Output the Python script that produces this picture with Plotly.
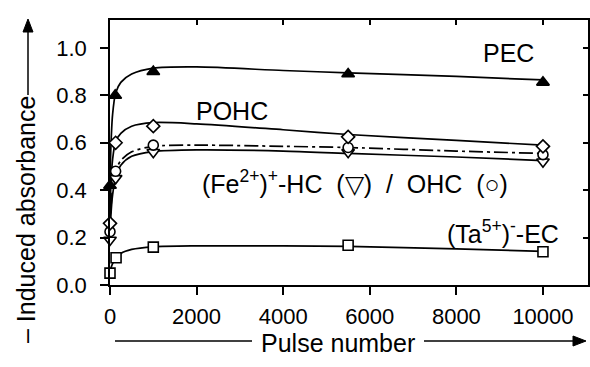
import plotly.graph_objects as go

# ---- data ----
x_ticks = [0, 2000, 4000, 6000, 8000, 10000]
y_ticks = [0.0, 0.2, 0.4, 0.6, 0.8, 1.0]

# measured points
pec_x = [0, 120, 1000, 5500, 10000]
pec_y = [0.42, 0.80, 0.90, 0.89, 0.855]
pohc_x = [0, 130, 1000, 5500, 10000]
pohc_y = [0.26, 0.60, 0.67, 0.625, 0.585]
ohc_x = [0, 130, 1000, 5500, 10000]
ohc_y = [0.225, 0.48, 0.59, 0.58, 0.55]
fe_x = [0, 130, 1000, 5500, 10000]
fe_y = [0.19, 0.45, 0.56, 0.56, 0.52]
ta_x = [0, 140, 1000, 5500, 10000]
ta_y = [0.05, 0.115, 0.16, 0.168, 0.14]

# fitted curves
curve_x = [0, 20, 60, 130, 250, 500, 1000, 2000, 4000, 5500, 8000, 10000]
pec_curve = [0.42, 0.58, 0.72, 0.81, 0.855, 0.89, 0.915, 0.92, 0.905, 0.895, 0.88, 0.865]
pohc_curve = [0.26, 0.42, 0.53, 0.605, 0.64, 0.67, 0.685, 0.68, 0.655, 0.635, 0.61, 0.59]
ohc_curve = [0.225, 0.32, 0.41, 0.48, 0.525, 0.562, 0.585, 0.59, 0.585, 0.58, 0.565, 0.555]
fe_curve = [0.19, 0.29, 0.38, 0.45, 0.505, 0.543, 0.563, 0.57, 0.565, 0.555, 0.54, 0.525]
ta_curve = [0.05, 0.07, 0.09, 0.112, 0.133, 0.15, 0.161, 0.165, 0.165, 0.163, 0.152, 0.142]

FONT = "Liberation Sans, Arial, Helvetica, sans-serif"
FS_TICK = 22
FS_TEXT = 25
L, R, T, B = 110, 2, 20, 82
W, H = 590, 367
PW, PH = W - L - R, H - T - B


def px(xp):
    return (xp - L) / PW


def py(yp):
    return (H - B - yp) / PH


XR = [0, 11040]
YR = [0, 1.118]

fig = go.Figure()

lw = 1.7
curves = [
    (pec_curve, "solid"),
    (pohc_curve, "solid"),
    (ohc_curve, "14px,4px,3px,4px"),
    (fe_curve, "solid"),
    (ta_curve, "solid"),
]
for cy, dash in curves:
    fig.add_trace(go.Scatter(x=curve_x, y=cy, mode="lines",
                             line=dict(color="black", width=lw, dash=dash, shape="spline", smoothing=0.8),
                             hoverinfo="skip", showlegend=False, cliponaxis=False))

markers = [
    (fe_x, fe_y, "triangle-down", 11, "white"),
    (ohc_x, ohc_y, "circle", 10, "white"),
    (pohc_x, pohc_y, "diamond", 10, "white"),
    (ta_x, ta_y, "square", 10, "white"),
    (pec_x, pec_y, "triangle-up", 11, "black"),
]
for mx, my, sym, sz, fill in markers:
    fig.add_trace(go.Scatter(x=mx, y=my, mode="markers",
                             marker=dict(symbol=sym, size=sz, color=fill,
                                         line=dict(color="black", width=1.6)),
                             showlegend=False, cliponaxis=False))

# dummy trace for mirrored axes
fig.add_trace(go.Scatter(x=[None], y=[None], xaxis="x2", yaxis="y2", showlegend=False, hoverinfo="skip"))

axis_common = dict(showgrid=False, zeroline=False, showline=True, linecolor="black", linewidth=1.5,
                   tickcolor="black", tickwidth=1.5)

fig.update_layout(
    width=W, height=H,
    margin=dict(l=L, r=R, t=T, b=B),
    paper_bgcolor="white", plot_bgcolor="white",
    font=dict(family=FONT, size=FS_TICK, color="black"),
    xaxis=dict(range=XR, tickvals=x_ticks, ticktext=[str(v) for v in x_ticks],
               ticks="outside", ticklen=8, ticklabelstandoff=3, **axis_common),
    yaxis=dict(range=YR, tickvals=y_ticks, ticktext=[f"{v:.1f}" for v in y_ticks],
               ticks="outside", ticklen=8, ticklabelstandoff=9, **axis_common),
    xaxis2=dict(range=XR, overlaying="x", side="top", tickvals=x_ticks, ticks="inside", ticklen=5,
                showticklabels=False, **axis_common),
    yaxis2=dict(range=YR, overlaying="y", side="right", tickvals=y_ticks, ticks="inside", ticklen=5,
                showticklabels=False, **axis_common),
)

ann = [
    dict(x=508, y=53, text="PEC"),
    dict(x=232, y=111, text="POHC"),
    dict(x=355, y=182, text="(Fe<sup>2+</sup>)<sup>+</sup>-HC  (▽)  /  OHC  (○)"),
    dict(x=503, y=232, text="(Ta<sup>5+</sup>)<sup>-</sup>-EC"),
    dict(x=338, y=343, text="Pulse number"),
]
for a in ann:
    fig.add_annotation(x=px(a["x"]), y=py(a["y"]), xref="paper", yref="paper", text=a["text"],
                       showarrow=False, font=dict(family=FONT, size=FS_TEXT, color="black"),
                       xanchor="center", yanchor="middle")

# y-axis title (rotated)
fig.add_annotation(x=px(26), y=py(220), xref="paper", yref="paper", text="– Induced absorbance",
                   textangle=-90, showarrow=False, font=dict(family=FONT, size=FS_TEXT, color="black"),
                   xanchor="center", yanchor="middle")

# arrows drawn as shapes
line = dict(color="black", width=1.5)
# vertical arrow (y title)
fig.add_shape(type="line", xref="paper", yref="paper", x0=px(28), x1=px(28), y0=py(95), y1=py(30), line=line)
fig.add_shape(type="path", xref="paper", yref="paper",
              path=f"M {px(23)} {py(32)} L {px(28)} {py(19)} L {px(33)} {py(32)} Z",
              fillcolor="black", line=dict(color="black", width=1))
# horizontal arrow (x title)
fig.add_shape(type="line", xref="paper", yref="paper", x0=px(115), x1=px(252), y0=py(341), y1=py(341), line=line)
fig.add_shape(type="line", xref="paper", yref="paper", x0=px(424), x1=px(575), y0=py(341), y1=py(341), line=line)
fig.add_shape(type="path", xref="paper", yref="paper",
              path=f"M {px(573)} {py(336)} L {px(586)} {py(341)} L {px(573)} {py(346)} Z",
              fillcolor="black", line=dict(color="black", width=1))

fig.write_html("out.html")
